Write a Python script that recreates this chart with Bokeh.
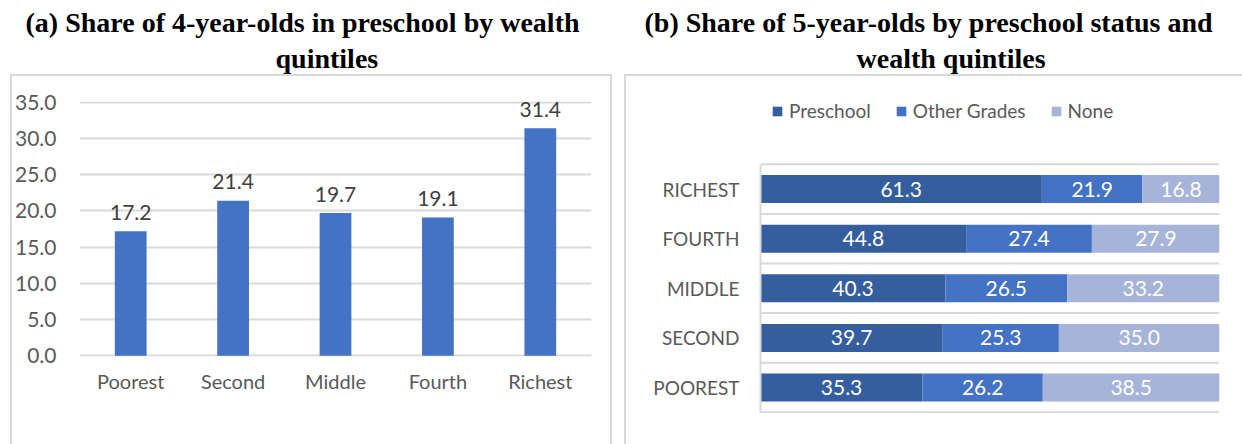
from bokeh.plotting import figure
from bokeh.models import (ColumnDataSource, FactorRange, Range1d, FixedTicker,
                          PrintfTickFormatter, Title, Legend, LegendItem, InlineStyleSheet)
from bokeh.layouts import row
from bokeh.embed import file_html
from bokeh.resources import INLINE
from bokeh.core.properties import value

# ---------------- data ----------------
quintiles_a = ["Poorest", "Second", "Middle", "Fourth", "Richest"]
share_4yo = [17.2, 21.4, 19.7, 19.1, 31.4]
y_ticks_a = [0, 5, 10, 15, 20, 25, 30, 35]

quintiles_b = ["POOREST", "SECOND", "MIDDLE", "FOURTH", "RICHEST"]   # bottom -> top
preschool = [35.3, 39.7, 40.3, 44.8, 61.3]
other_grades = [26.2, 25.3, 26.5, 27.4, 21.9]
none_share = [38.5, 35.0, 33.2, 27.9, 16.8]
status = ["Preschool", "Other Grades", "None"]

title_a = ["(a)  Share of 4-year-olds in preschool by wealth", "quintiles"]
title_b = ["(b)  Share of 5-year-olds by preschool status and", "wealth quintiles"]

# ---------------- styles ----------------
SANS = "Lato"
SERIF = "Liberation Serif"
BLUE = "#4472C4"
DARK = "#355E9F"
LIGHT = "#A7B4DA"
GRID = "#D9D9D9"
TXT = "#595959"
TSIZE = "28px"


def add_titles(p, lines, offsets, spacer):
    # spacer nearest the frame, then line 2, then line 1
    p.add_layout(Title(text=" ", text_font_size="1px", standoff=spacer), "above")
    for txt, off in zip(reversed(lines), reversed(offsets)):
        p.add_layout(Title(text=txt, align="left", offset=off, standoff=3,
                           text_font=SERIF, text_font_style="bold",
                           text_font_size=TSIZE, text_color="black"), "above")


# ================= Panel (a) =================
pa = figure(width=617, height=444, x_range=FactorRange(*quintiles_a),
            y_range=Range1d(-0.1, 35.1), output_backend="svg", toolbar_location=None,
            min_border_left=79, min_border_right=26, min_border_top=101, min_border_bottom=88,
            frame_align=False)
pa.outline_line_color = None
pa.background_fill_color = "white"
pa.border_fill_color = "white"

src_a = ColumnDataSource(dict(q=quintiles_a, v=share_4yo,
                              lab=[f"{x:.1f}" for x in share_4yo]))
pa.vbar(x="q", top="v", width=0.31, source=src_a, fill_color=BLUE, line_color=None)
pa.text(x="q", y="v", text="lab", source=src_a, y_offset=-19, text_align="center",
        text_baseline="alphabetic", text_font=value(SANS), text_font_size="21px",
        text_color="#404040")

pa.xgrid.visible = False
pa.ygrid.grid_line_color = GRID
pa.ygrid.grid_line_width = 2
pa.yaxis.ticker = FixedTicker(ticks=y_ticks_a)
pa.yaxis.formatter = PrintfTickFormatter(format="%.1f")
for ax in (pa.xaxis[0], pa.yaxis[0]):
    ax.axis_line_color = None
    ax.major_tick_line_color = None
    ax.minor_tick_line_color = None
    ax.major_tick_out = 0
    ax.major_tick_in = 0
    ax.major_label_text_font = SANS
    ax.major_label_text_color = TXT
pa.yaxis.major_label_text_font_size = "21px"
pa.xaxis.major_label_text_font_size = "20px"
pa.yaxis.major_label_standoff = 23
pa.xaxis.major_label_standoff = 12

add_titles(pa, title_a, [-54, 196], spacer=23)
pa.stylesheets = [InlineStyleSheet(css="""
:host::after { content: ""; position: absolute; left: 10px; top: 74px; width: 602px;
  height: 370px; box-sizing: border-box; border: 2px solid #D9D9D9; border-bottom: none;
  pointer-events: none; z-index: 5; }
""")]

# ================= Panel (b) =================
pos_b = list(range(len(quintiles_b)))
pb = figure(width=625, height=444, x_range=Range1d(0, 100), y_range=Range1d(-0.524, 5.867),
            output_backend="svg", toolbar_location=None, x_axis_location=None,
            min_border_left=143, min_border_right=23, min_border_top=96, min_border_bottom=31,
            frame_align=False)
pb.outline_line_color = None
pb.background_fill_color = "white"
pb.border_fill_color = "white"
pb.xgrid.visible = False
pb.ygrid.visible = False

src_b = ColumnDataSource(dict(y=pos_b, Preschool=preschool,
                              **{"Other Grades": other_grades, "None": none_share}))
rs = pb.hbar_stack(status, y="y", height=0.565, source=src_b, color=[DARK, BLUE, LIGHT],
                   line_color=None)

# category separators (between rows, plus top and bottom)
bounds = [p - 0.5 for p in pos_b] + [pos_b[-1] + 0.5]
pb.segment(x0=[0] * len(bounds), x1=[100] * len(bounds), y0=bounds, y1=bounds,
           line_color=GRID, line_width=2)

# segment value labels
series = [preschool, other_grades, none_share]
xs, ys, labs = [], [], []
for i, yy in enumerate(pos_b):
    left = 0.0
    for s in series:
        xs.append(left + s[i] / 2)
        ys.append(yy)
        labs.append(f"{s[i]:.1f}")
        left += s[i]
pb.text(x=xs, y=ys, text=labs, text_align="center", text_baseline="middle",
        text_font=value(SANS), text_font_size="21px", text_color="white")

yax = pb.yaxis[0]
yax.ticker = FixedTicker(ticks=pos_b)
yax.major_label_overrides = {p: q for p, q in zip(pos_b, quintiles_b)}
yax.bounds = (bounds[0], bounds[-1])
yax.axis_line_color = GRID
yax.axis_line_width = 2
yax.major_tick_line_color = None
yax.minor_tick_line_color = None
yax.major_tick_out = 0
yax.major_tick_in = 0
yax.major_label_text_font = SANS
yax.major_label_text_font_size = "19px"
yax.major_label_text_color = TXT
yax.major_label_standoff = 21

legend = Legend(items=[LegendItem(label=n, renderers=[r]) for n, r in zip(status, rs)],
                orientation="horizontal", location=(11, 291), padding=0, margin=0,
                spacing=24, glyph_width=12, glyph_height=12, label_standoff=6,
                label_height=12, label_text_font=SANS, label_text_font_size="19px",
                label_text_color=TXT, border_line_color=None, background_fill_alpha=0)
pb.add_layout(legend, "center")

add_titles(pb, title_b, [-116, 96], spacer=18)
pb.stylesheets = [InlineStyleSheet(css="""
:host::after { content: ""; position: absolute; left: 7px; top: 74px; right: 0px;
  bottom: 0px; border-left: 2px solid #D9D9D9; border-top: 2px solid #D9D9D9;
  pointer-events: none; z-index: 5; }
""")]

layout = row(pa, pb)
open("out.html", "w").write(file_html(layout, INLINE))
